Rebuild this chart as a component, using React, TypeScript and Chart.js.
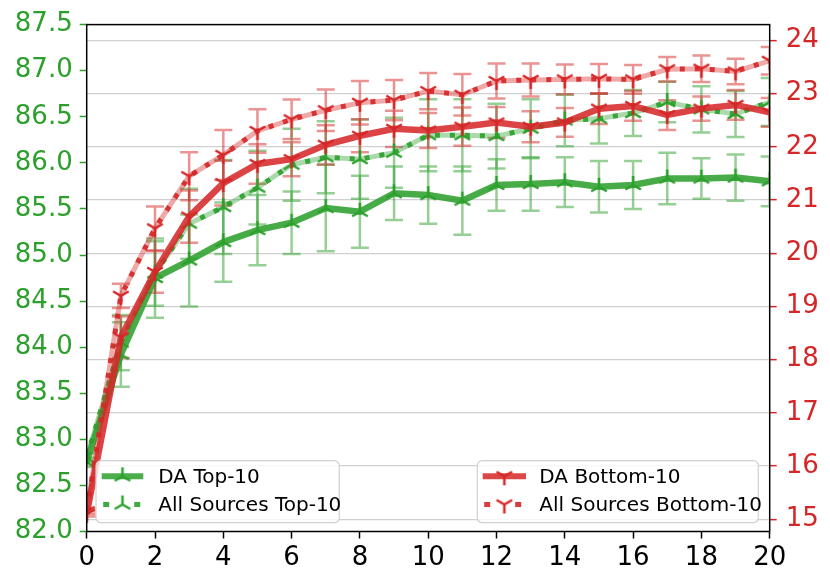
import { useEffect, useRef } from "react";
import { Chart, registerables } from "chart.js";

Chart.register(...registerables);

// epochs on the x axis
const steps = [0, 1, 2, 3, 4, 5, 6, 7, 8, 9, 10, 11, 12, 13, 14, 15, 16, 17, 18, 19, 20];

// left axis (top-10 accuracy)
const daTop10 = [82.75, 83.92, 84.75, 84.94, 85.14, 85.27, 85.35, 85.51, 85.47, 85.67, 85.65, 85.59, 85.76, 85.77, 85.79, 85.74, 85.76, 85.83, 85.83, 85.84, 85.8];
const daTop10Err = [0.05, 0.35, 0.43, 0.5, 0.43, 0.38, 0.34, 0.47, 0.39, 0.29, 0.31, 0.37, 0.28, 0.29, 0.27, 0.28, 0.26, 0.28, 0.22, 0.25, 0.27];
const allTop10 = [82.8, 84.05, 84.8, 85.34, 85.52, 85.73, 85.98, 86.06, 86.04, 86.11, 86.3, 86.3, 86.29, 86.37, 86.46, 86.48, 86.54, 86.66, 86.58, 86.53, 86.66];
const allTop10Err = [0.05, 0.3, 0.35, 0.38, 0.51, 0.4, 0.39, 0.39, 0.43, 0.38, 0.39, 0.39, 0.35, 0.32, 0.28, 0.27, 0.25, 0.22, 0.25, 0.25, 0.26];

// right axis (bottom-10 accuracy)
const daBottom10 = [15.1, 18.42, 19.65, 20.69, 21.32, 21.68, 21.77, 22.04, 22.21, 22.34, 22.31, 22.38, 22.46, 22.38, 22.46, 22.72, 22.77, 22.6, 22.72, 22.79, 22.65];
const daBottom10Err = [0.05, 0.39, 0.39, 0.49, 0.42, 0.37, 0.32, 0.37, 0.31, 0.34, 0.33, 0.36, 0.29, 0.29, 0.27, 0.29, 0.28, 0.28, 0.23, 0.28, 0.27];
const allBottom10 = [15.15, 19.2, 20.47, 21.45, 21.85, 22.3, 22.52, 22.69, 22.83, 22.88, 23.05, 22.98, 23.24, 23.26, 23.27, 23.28, 23.27, 23.46, 23.47, 23.42, 23.62];
const allBottom10Err = [0.05, 0.23, 0.41, 0.45, 0.47, 0.41, 0.37, 0.39, 0.41, 0.38, 0.34, 0.39, 0.33, 0.31, 0.28, 0.28, 0.27, 0.23, 0.25, 0.24, 0.26];

const xTicks = [0, 2, 4, 6, 8, 10, 12, 14, 16, 18, 20];
const leftTicks = [82.0, 82.5, 83.0, 83.5, 84.0, 84.5, 85.0, 85.5, 86.0, 86.5, 87.0, 87.5];
const rightTicks = [15, 16, 17, 18, 19, 20, 21, 22, 23, 24];

const GREEN = "44, 160, 44";
const RED = "214, 39, 40";
const rgba = (c: string, a: number) => `rgba(${c}, ${a})`;
const FONT = "'DejaVu Sans', sans-serif";

const triMarker = (color: string, up: boolean) => {
  const c = document.createElement("canvas");
  c.width = 24;
  c.height = 24;
  const ctx = c.getContext("2d")!;
  ctx.strokeStyle = color;
  ctx.lineWidth = 2.5;
  const r = 9;
  const s = up ? 1 : -1;
  ctx.beginPath();
  ctx.moveTo(12, 12);
  ctx.lineTo(12, 12 - s * r);
  ctx.moveTo(12, 12);
  ctx.lineTo(12 + r * 0.866, 12 + s * r * 0.5);
  ctx.moveTo(12, 12);
  ctx.lineTo(12 - r * 0.866, 12 + s * r * 0.5);
  ctx.stroke();
  return c;
};

const pts = (ys: number[]) => steps.map((x, i) => ({ x, y: ys[i] }));

const App = () => {
  const canvasRef = useRef<HTMLCanvasElement>(null);

  useEffect(() => {
    const greenTri = triMarker(rgba(GREEN, 1), true);
    const redTri = triMarker(rgba(RED, 1), false);

    const errSeries = [
      { ys: allTop10, err: allTop10Err, axis: "yL", color: GREEN },
      { ys: daTop10, err: daTop10Err, axis: "yL", color: GREEN },
      { ys: allBottom10, err: allBottom10Err, axis: "yR", color: RED },
      { ys: daBottom10, err: daBottom10Err, axis: "yR", color: RED },
    ];

    const errorBars = {
      id: "errorBars",
      beforeDatasetsDraw(chart: any) {
        const { ctx, chartArea, scales } = chart;
        ctx.save();
        ctx.beginPath();
        ctx.rect(chartArea.left, chartArea.top, chartArea.right - chartArea.left, chartArea.bottom - chartArea.top);
        ctx.clip();
        ctx.lineWidth = 2.5;
        errSeries.forEach((s) => {
          ctx.strokeStyle = rgba(s.color, 0.5);
          const ys = scales[s.axis];
          steps.forEach((x, i) => {
            const px = scales.x.getPixelForValue(x);
            const lo = ys.getPixelForValue(s.ys[i] - s.err[i]);
            const hi = ys.getPixelForValue(s.ys[i] + s.err[i]);
            ctx.beginPath();
            ctx.moveTo(px, lo);
            ctx.lineTo(px, hi);
            ctx.moveTo(px - 9, lo);
            ctx.lineTo(px + 9, lo);
            ctx.moveTo(px - 9, hi);
            ctx.lineTo(px + 9, hi);
            ctx.stroke();
          });
        });
        ctx.restore();
      },
    };

    const drawEntry = (ctx: CanvasRenderingContext2D, x0: number, x1: number, y: number, color: string, dotted: boolean, marker: HTMLCanvasElement, text: string, tx: number) => {
      ctx.save();
      ctx.strokeStyle = rgba(color, dotted ? 0.9 : 0.85);
      ctx.lineWidth = dotted ? 5 : 6;
      if (dotted) ctx.setLineDash([6, 25]);
      ctx.beginPath();
      ctx.moveTo(x0 + (dotted ? 1.5 : 0), y);
      ctx.lineTo(x1, y);
      ctx.stroke();
      ctx.restore();
      ctx.drawImage(marker, (x0 + x1) / 2 - 12, y - 12);
      ctx.fillStyle = "#000";
      ctx.font = `20px ${FONT}`;
      ctx.textBaseline = "middle";
      ctx.fillText(text, tx, y + 1);
    };

    const legendBox = (ctx: CanvasRenderingContext2D, x: number, y: number, w: number, h: number) => {
      ctx.save();
      ctx.beginPath();
      ctx.roundRect(x, y, w, h, 5);
      ctx.fillStyle = "rgba(255,255,255,0.8)";
      ctx.fill();
      ctx.strokeStyle = "#d0d0d0";
      ctx.lineWidth = 1.2;
      ctx.stroke();
      ctx.restore();
    };

    const decor = {
      id: "decor",
      afterDraw(chart: any) {
        const { ctx, chartArea } = chart;
        ctx.save();
        ctx.strokeStyle = "#000";
        ctx.lineWidth = 1.5;
        ctx.strokeRect(chartArea.left, chartArea.top, chartArea.right - chartArea.left, chartArea.bottom - chartArea.top);
        ctx.restore();

        legendBox(ctx, 96, 460.7, 243.3, 62);
        drawEntry(ctx, 101.7, 143.3, 476.3, GREEN, false, greenTri, "DA Top-10", 158.3);
        drawEntry(ctx, 101.7, 143.3, 504.5, GREEN, true, greenTri, "All Sources Top-10", 158.3);

        legendBox(ctx, 477.3, 460.7, 281, 62);
        drawEntry(ctx, 482.7, 526, 476.3, RED, false, redTri, "DA Bottom-10", 539.3);
        drawEntry(ctx, 482.7, 526, 504.5, RED, true, redTri, "All Sources Bottom-10", 539.3);
      },
    };

    const line = (ys: number[], axis: string, color: string, kind: "band" | "dots" | "solid", marker: HTMLCanvasElement) => ({
      data: pts(ys),
      yAxisID: axis,
      borderColor: rgba(color, kind === "band" ? 0.4 : kind === "dots" ? 0.9 : 0.87),
      borderWidth: kind === "solid" ? 6.5 : 5,
      borderDash: kind === "dots" ? [5, 10] : [],
      borderCapStyle: "butt" as const,
      pointRadius: kind === "band" ? 0 : 9,
      pointStyle: marker as any,
      fill: false,
      tension: 0,
    });

    const chart = new Chart(canvasRef.current!, {
      type: "line",
      data: {
        datasets: [
          line(daBottom10, "yR", RED, "solid", redTri),
          line(allBottom10, "yR", RED, "dots", redTri),
          line(allBottom10, "yR", RED, "band", redTri),
          line(daTop10, "yL", GREEN, "solid", greenTri),
          line(allTop10, "yL", GREEN, "dots", greenTri),
          line(allTop10, "yL", GREEN, "band", greenTri),
        ],
      },
      options: {
        animation: false,
        responsive: true,
        maintainAspectRatio: false,
        layout: { padding: { top: 23.3, left: 0, right: 0, bottom: 0 } },
        plugins: { legend: { display: false }, tooltip: { enabled: false } },
        scales: {
          x: {
            type: "linear",
            min: 0,
            max: 20,
            afterBuildTicks: (s: any) => {
              s.ticks = xTicks.map((value) => ({ value }));
            },
            afterFit: (s: any) => {
              s.height = 53.5;
            },
            ticks: { color: "#000", font: { family: FONT, size: 26 }, padding: 4, maxRotation: 0 },
            grid: { drawOnChartArea: false, tickLength: 7, tickColor: "#000", tickWidth: 1.5 },
            border: { display: false },
          },
          yL: {
            type: "linear",
            position: "left",
            min: 82,
            max: 87.5,
            afterBuildTicks: (s: any) => {
              s.ticks = leftTicks.map((value) => ({ value }));
            },
            afterFit: (s: any) => {
              s.width = 86.7;
            },
            ticks: { color: rgba(GREEN, 1), font: { family: FONT, size: 26 }, padding: 7, callback: (v: any) => Number(v).toFixed(1) },
            grid: { drawOnChartArea: false, tickLength: 7, tickColor: rgba(GREEN, 1), tickWidth: 1.5 },
            border: { display: false },
          },
          yR: {
            type: "linear",
            position: "right",
            min: 14.77,
            max: 24.3,
            afterBuildTicks: (s: any) => {
              s.ticks = rightTicks.map((value) => ({ value }));
            },
            afterFit: (s: any) => {
              s.width = 60.3;
            },
            ticks: { color: rgba(RED, 1), font: { family: FONT, size: 26 }, padding: 9 },
            grid: { color: "#d0d0d0", lineWidth: 1.3, tickLength: 7, tickColor: rgba(RED, 1), tickWidth: 1.5 },
            border: { display: false },
          },
        },
      },
      plugins: [errorBars, decor],
    });

    return () => {
      chart.destroy();
    };
  }, []);

  return (
    <div style={{ position: "absolute", left: 0, top: 0, width: 830, height: 585 }}>
      <canvas ref={canvasRef} />
    </div>
  );
};

export default App;
